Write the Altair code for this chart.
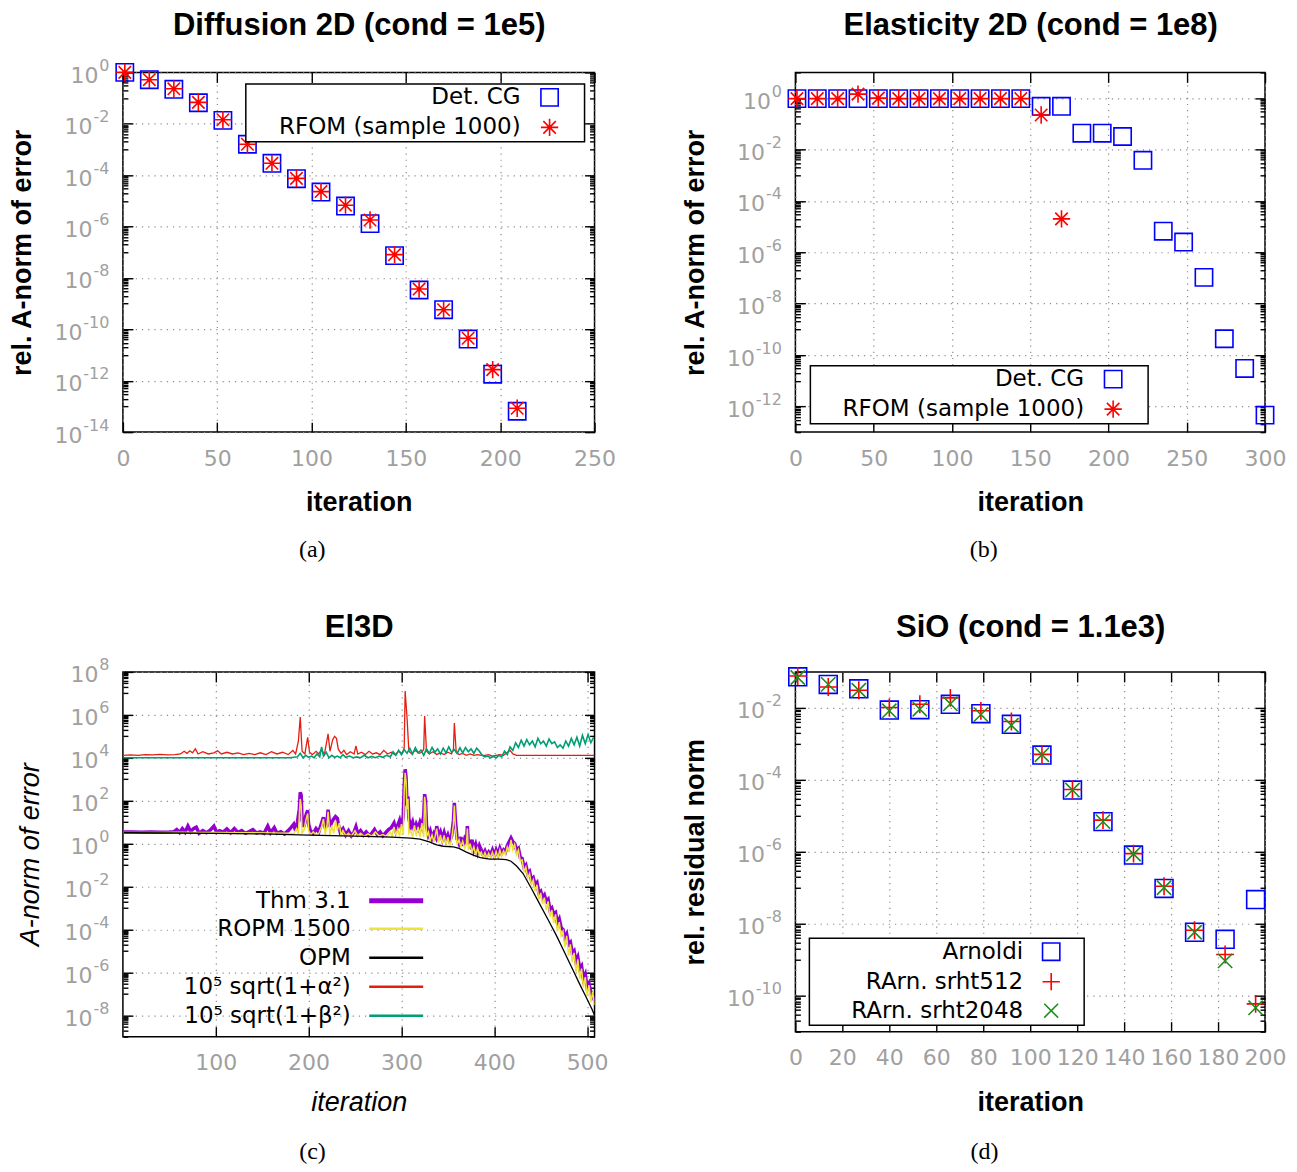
import altair as alt
import pandas as pd

# ---------------- (a) Diffusion 2D ----------------
A_ITER = [1, 14, 27, 40, 53, 66, 79, 92, 105, 118, 131, 144, 157, 170, 183, 196, 209]
A_CG = [1.0, 0.52, 0.22, 0.066, 0.0136, 1.6e-3, 2.9e-4, 7.3e-5, 2.2e-5, 6.3e-6, 1.3e-6,
        7.4e-8, 3.4e-9, 5.8e-10, 4.2e-11, 1.8e-12, 6.5e-14]
A_RFOM = [1.0, 0.52, 0.23, 0.068, 0.0144, 1.6e-3, 2.9e-4, 7.5e-5, 2.3e-5, 6.8e-6, 1.8e-6,
          8.1e-8, 3.7e-9, 5.8e-10, 4.5e-11, 2.7e-12, 8.5e-14]

# ---------------- (b) Elasticity 2D ----------------
B_ITER_CG = [1, 14, 27, 40, 53, 66, 79, 92, 105, 118, 131, 144, 157, 170, 183, 196, 209,
             222, 235, 248, 261, 274, 287, 300]
B_CG = [0.95, 0.95, 0.95, 0.95, 0.95, 0.95, 0.95, 0.95, 0.95, 0.95, 0.95, 0.95, 0.48, 0.48,
        0.043, 0.043, 0.032, 0.0038, 6.6e-6, 2.5e-6, 1.05e-7, 4.3e-10, 3.0e-11, 4.6e-13]
B_ITER_RFOM = [1, 14, 27, 40, 53, 66, 79, 92, 105, 118, 131, 144, 157, 170]
B_RFOM = [0.95, 0.95, 0.95, 1.43, 1.0, 0.95, 0.95, 0.95, 0.95, 0.95, 0.95, 0.95, 0.22, 2.0e-5]

# ---------------- (c) El3D ----------------
C_THM_X = [1, 10, 20, 30, 40, 50, 55, 58, 61, 64, 67, 70, 73, 76, 79, 82, 86, 90, 94, 98, 101, 104,
           108, 112, 116, 120, 124, 128, 132, 136, 140, 144, 148, 152, 156, 159, 163, 166, 170, 174,
           178, 181, 184, 186, 188, 190, 191, 192, 193, 195, 197, 199, 200, 202, 205, 208, 211, 214,
           216, 218, 220, 221, 223, 225, 227, 229, 231, 232, 234, 237, 240, 243, 246, 249, 251, 253,
           256, 259, 262, 265, 268, 271, 274, 277, 280, 283, 286, 289, 292, 294, 296, 298, 300, 302,
           303, 304, 305, 306, 307, 308, 310, 312, 314, 316, 318, 320, 322, 324, 325, 326, 327, 329,
           331, 333, 335, 337, 338, 340, 342, 344, 346, 348, 350, 352, 354, 356, 357, 358, 360, 362,
           364, 366, 368, 370, 371, 372, 374, 376, 378, 380, 382, 384, 386, 388, 390, 392, 394, 396,
           398, 400, 402, 404, 406, 408, 410, 412, 414, 416, 418, 420, 422, 424, 426, 428, 430, 432,
           434, 436, 438, 440, 442, 444, 446, 448, 450, 452, 454, 456, 458, 460, 462, 464, 466, 468,
           470, 472, 474, 476, 478, 480, 482, 484, 486, 488, 490, 492, 494, 496, 498, 500, 502, 504,
           506, 508]
C_THM_Y = [3.5, 3.5, 3.4, 3.5, 3.4, 3.5, 3.6, 4.5, 3.3, 5.0, 3.4, 6.5, 3.6, 5.0, 5.8, 3.0, 4.0, 3.2,
           4.2, 6.5, 3.3, 4.0, 3.4, 4.8, 3.2, 5.0, 3.3, 4.0, 3.0, 3.6, 4.5, 3.1, 3.5, 3.0, 6.5, 3.2,
           5.5, 3.0, 3.6, 2.8, 4.0, 5.5, 8.0, 4.0, 10, 40, 245, 180, 12, 6, 20, 35, 8, 4, 3.0, 5, 3.5,
           9, 17, 5, 12, 38, 6, 10, 14, 18, 15, 8, 3.5, 5, 2.5, 4.0, 2.3, 3.5, 6, 2.8, 4, 2.5, 3.5,
           2.4, 3.0, 4.5, 2.6, 3.5, 2.3, 3.2, 4.5, 5.5, 9, 4, 7, 12, 5, 20, 500, 2900, 1200, 60, 160,
           15, 6, 10, 4, 8, 5, 10, 6, 20, 200, 100, 7, 2.5, 4, 1.8, 3, 2, 6.5, 2.2, 3.5, 1.6, 3.2, 1.5,
           2.5, 1.3, 2.2, 12, 80, 15, 1.6, 1.0, 2.0, 0.8, 1.6, 1.0, 6.5, 1.2, 0.8, 1.5, 0.5, 0.9, 0.4,
           0.8, 0.5, 0.3, 0.45, 0.28, 0.4, 0.3, 0.5, 0.28, 0.5, 0.3, 0.6, 0.35, 0.5, 0.4, 0.8, 1.2,
           1.8, 1.2, 1.0, 0.5, 0.6, 0.22, 0.2, 0.08, 0.1, 0.04, 0.05, 0.02, 0.025, 0.012, 0.015, 5e-3,
           6e-3, 3e-3, 4e-3, 2e-3, 2.5e-3, 8e-4, 1e-3, 5e-4, 6e-4, 2e-4, 3e-4, 1.2e-4, 1e-4, 4e-5,
           6e-5, 2e-5, 2.5e-5, 8e-6, 1e-5, 3e-6, 5e-6, 1.5e-6, 2e-6, 5e-7, 8e-7, 2e-7, 3e-7, 1.2e-7,
           8e-8, 5e-8]

C_ROPM_X = [1, 20, 40, 60, 80, 100, 120, 140, 160, 180, 184, 187, 189, 190, 191, 192, 193, 195,
            197, 199, 200, 202, 205, 208, 211, 214, 216, 218, 220, 221, 223, 225, 227, 229, 231, 233,
            235, 237, 240, 243, 246, 250, 253, 256, 260, 264, 268, 272, 276, 280, 284, 288, 290, 292,
            294, 296, 298, 300, 302, 303, 304, 305, 306, 307, 308, 310, 312, 314, 316, 318, 320, 322,
            324, 325, 326, 327, 329, 331, 333, 335, 337, 338, 340, 342, 344, 346, 348, 350, 352, 354,
            356, 357, 358, 360, 362, 364, 366, 368, 370, 371, 372, 374, 376, 378, 380, 382, 384, 386,
            388, 390, 392, 394, 396, 398, 400, 402, 404, 406, 408, 410, 412, 414, 416, 418, 420, 422,
            424, 426, 428, 430, 432, 434, 436, 438, 440, 442, 444, 446, 448, 450, 452, 454, 456, 458,
            460, 462, 464, 466, 468, 470, 472, 474, 476, 478, 480, 482, 484, 486, 488, 490, 492, 494,
            496, 498, 500, 502, 504, 506, 508]
C_ROPM_Y = [3.3, 3.3, 3.3, 3.4, 3.3, 3.3, 3.2, 3.2, 3.1, 3.0, 2.8, 5, 2.8, 20, 120, 60, 3, 4, 12,
            25, 4, 2.6, 3.5, 2.5, 3, 6, 14, 2.6, 8, 30, 2.5, 7, 3, 12, 4, 9, 2.4, 4, 2.3, 3, 2.2, 4,
            2.3, 3, 2.2, 2.8, 2.2, 3.5, 2.2, 2.6, 2.1, 3.5, 2.2, 6, 2.5, 5, 2.2, 8, 2.5, 300, 2000,
            800, 40, 120, 3, 4, 2, 7, 2.2, 6, 2, 9, 2, 150, 60, 2, 3.5, 1.4, 2.5, 1.2, 3, 5, 1.1, 2.5,
            1.0, 2.4, 0.9, 2.0, 0.8, 1.5, 8, 60, 8, 0.9, 1.5, 0.7, 1.3, 0.6, 0.9, 5, 0.5, 1.0, 0.4,
            0.7, 0.3, 0.6, 0.3, 0.4, 0.22, 0.38, 0.21, 0.35, 0.22, 0.4, 0.21, 0.42, 0.22, 0.5, 0.25,
            0.45, 0.3, 0.7, 0.4, 1.5, 0.5, 0.9, 0.3, 0.5, 0.15, 0.17, 0.05, 0.08, 0.025, 0.04, 0.012,
            0.02, 6e-3, 0.012, 2.5e-3, 5e-3, 1.5e-3, 3e-3, 8e-4, 2e-3, 4e-4, 8e-4, 2e-4, 5e-4, 8e-5,
            2.2e-4, 5e-5, 8e-5, 1.5e-5, 5e-5, 6e-6, 2e-5, 3e-6, 8e-6, 1e-6, 4e-6, 5e-7, 1.5e-6, 2e-7,
            6e-7, 8e-8, 2.5e-7, 4e-8, 1.2e-7, 3e-8]

C_OPM_X = [1, 50, 100, 150, 200, 250, 290, 310, 320, 330, 338, 345, 356, 362, 370, 378, 385, 395,
           405, 413, 418, 424, 431, 440, 449, 458, 467, 476, 485, 492, 499, 505, 508]
C_OPM_Y = [3.2, 3.1, 3.0, 2.8, 2.5, 2.2, 2.0, 1.8, 1.6, 1.2, 0.87, 0.75, 0.7, 0.6, 0.4, 0.28, 0.22,
           0.19, 0.19, 0.18, 0.15, 0.09, 0.04, 8e-3, 1.5e-3, 2.8e-4, 5.1e-5, 8e-6, 1.2e-6, 2.8e-7,
           6.9e-8, 2e-8, 1e-8]

C_ALPHA_X = [1, 8, 16, 24, 32, 40, 48, 56, 62, 66, 69, 72, 75, 78, 81, 86, 92, 98, 102, 106, 112,
             118, 124, 130, 136, 142, 148, 154, 160, 166, 172, 178, 183, 186, 189, 191, 193, 196, 199,
             201, 204, 208, 211, 214, 217, 221, 223, 226, 228, 230, 232, 235, 238, 241, 245, 249, 251,
             253, 257, 261, 265, 269, 273, 277, 281, 285, 289, 293, 297, 301, 303, 304, 306, 308, 311,
             315, 319, 322, 324, 325, 327, 330, 334, 338, 342, 346, 350, 354, 356, 357, 359, 362, 366,
             370, 374, 378, 382, 386, 390, 394, 398, 402, 406, 410, 414, 417, 420, 424, 440, 460, 480,
             500, 508]
C_ALPHA_Y = [1.3e4, 1.35e4, 1.3e4, 1.4e4, 1.35e4, 1.45e4, 1.35e4, 1.4e4, 1.5e4, 2.0e4, 1.6e4, 2.1e4,
             1.7e4, 2.6e4, 1.5e4, 1.9e4, 1.5e4, 1.7e4, 2.1e4, 1.5e4, 1.8e4, 1.5e4, 1.7e4, 1.4e4,
             1.6e4, 1.4e4, 1.7e4, 1.4e4, 1.9e4, 1.5e4, 1.8e4, 1.4e4, 2.2e4, 1.5e4, 6.0e4, 7.8e5,
             2.0e4, 1.5e4, 9.0e4, 1.8e4, 1.4e4, 2.0e4, 1.5e4, 2.4e4, 1.4e4, 1.3e5, 2.0e4, 7.0e4,
             1.0e5, 8.0e4, 2.5e4, 1.6e4, 2.2e4, 1.4e4, 1.9e4, 1.5e4, 3.6e4, 1.5e4, 1.8e4, 1.4e4,
             2.0e4, 1.5e4, 1.7e4, 1.4e4, 2.2e4, 1.5e4, 1.8e4, 1.4e4, 2.0e4, 1.6e4, 3.0e4, 1.3e7,
             7.8e5, 2.0e4, 1.5e4, 2.2e4, 1.6e4, 1.8e4, 2.5e4, 8.7e5, 2.0e4, 1.5e4, 1.9e4, 1.4e4,
             1.7e4, 1.4e4, 1.8e4, 1.5e4, 2.5e4, 4.2e5, 1.8e4, 1.4e4, 1.6e4, 1.3e4, 1.5e4, 1.3e4,
             1.4e4, 1.3e4, 1.3e4, 1.4e4, 1.2e4, 1.3e4, 1.4e4, 1.3e4, 1.8e4, 2.2e4, 1.5e4, 1.3e4,
             1.3e4, 1.3e4, 1.3e4, 1.3e4, 1.3e4]

C_BETA_X = [1, 40, 80, 120, 160, 180, 184, 188, 191, 194, 197, 200, 203, 206, 209, 212, 214, 216,
            219, 222, 225, 228, 231, 234, 237, 240, 244, 248, 252, 256, 260, 264, 268, 272, 276, 280,
            284, 288, 291, 294, 297, 300, 303, 306, 309, 312, 315, 318, 321, 324, 327, 330, 333, 336,
            339, 342, 345, 348, 351, 354, 357, 360, 363, 366, 369, 372, 375, 378, 381, 384, 387, 390,
            393, 396, 399, 402, 405, 408, 411, 414, 417, 420, 423, 426, 429, 432, 435, 438, 441, 444,
            447, 450, 453, 456, 459, 462, 465, 468, 471, 474, 477, 480, 483, 486, 489, 492, 495, 498,
            501, 504, 507]
C_BETA_Y = [1.0e4, 1.0e4, 1.0e4, 1.0e4, 1.0e4, 1.0e4, 1.05e4, 1.1e4, 1.6e4, 1.0e4, 1.3e4, 1.05e4,
            1.2e4, 1.0e4, 1.5e4, 1.1e4, 3.2e4, 1.2e4, 1.8e4, 1.0e4, 1.3e4, 1.05e4, 1.2e4, 1.0e4,
            1.4e4, 1.05e4, 1.2e4, 1.0e4, 1.1e4, 1.0e4, 1.3e4, 1.0e4, 1.15e4, 1.0e4, 1.2e4, 1.05e4,
            1.3e4, 1.1e4, 1.9e4, 1.3e4, 2.2e4, 1.4e4, 2.4e4, 1.6e4, 2.8e4, 1.5e4, 3.0e4, 1.7e4,
            2.3e4, 1.3e4, 2.6e4, 1.6e4, 3.0e4, 1.8e4, 2.6e4, 1.5e4, 2.8e4, 1.7e4, 3.2e4, 1.8e4,
            2.4e4, 1.6e4, 2.9e4, 1.7e4, 3.0e4, 1.9e4, 2.6e4, 1.6e4, 2.8e4, 2.0e4, 1.3e4, 1.1e4,
            1.2e4, 1.0e4, 1.15e4, 1.0e4, 1.3e4, 1.1e4, 2.0e4, 1.4e4, 3.2e4, 2.2e4, 5.0e4, 3.0e4,
            6.5e4, 3.5e4, 7.0e4, 4.0e4, 6.0e4, 3.2e4, 8.0e4, 4.5e4, 6.0e4, 3.5e4, 7.5e4, 4.5e4,
            5.5e4, 3.0e4, 4.0e4, 2.8e4, 6.0e4, 3.5e4, 8.0e4, 4.0e4, 9.0e4, 3.5e4, 1.1e5, 4.5e4,
            1.2e5, 5.0e4, 9.0e4]

# ---------------- (d) SiO ----------------
D_ITER = [1, 14, 27, 40, 53, 66, 79, 92, 105, 118, 131, 144, 157, 170, 183, 196]
D_ARN = [0.073, 0.045, 0.034, 0.0087, 0.0089, 0.0126, 0.0069, 0.0035, 4.9e-4, 5.2e-5, 6.9e-6,
         8.1e-7, 9.6e-8, 5.8e-9, 3.7e-9, 4.7e-8]
D_S512 = [0.077, 0.038, 0.031, 0.0103, 0.0126, 0.019, 0.0083, 0.0042, 5.1e-4, 5.4e-5, 7.6e-6,
          8.9e-7, 1.1e-7, 6.6e-9, 1.4e-9, 5.9e-11]
D_S2048 = [0.07, 0.045, 0.031, 0.0083, 0.0092, 0.013, 0.0065, 0.0033, 5.0e-4, 5.2e-5, 6.9e-6,
           8.7e-7, 1.0e-7, 5.8e-9, 9.3e-10, 4.6e-11]

# ---------------- style ----------------
GREY = "#a0a0a0"
GRIDC = "#8c8c8c"
TICKF = "DejaVu Sans"
HEADF = "Liberation Sans"
ASTER_EXT = "M-1,0L1,0M0,-1L0,1M-0.72,-0.72L0.72,0.72M-0.72,0.72L0.72,-0.72 M3.35,0"
PLUS_EXT = "M-1,0L1,0M0,-1L0,1 M3.2,0"
XMARK = "M-0.8,-0.8L0.8,0.8M-0.8,0.8L0.8,-0.8"
LINE_SYM = "M-3,0L3,0"
EXP_LABEL = "toString(round(log(datum.value)/LN10))"
LPAD = 14
EXP_SIZE = 16
TEN_PAD = {"condition": [{"test": "datum.value < 1e-9", "value": LPAD + 27},
                         {"test": "datum.value < 0.5", "value": LPAD + 17}],
           "value": LPAD + 11}


def ticks_log(lo, hi, dmin, dmax):
    major = [10.0 ** e for e in range(hi, lo - 1, -1) if e % 2 == 0]
    minor = []
    for e in range(hi, lo - 1, -1):
        if e % 2 != 0:
            for m in range(1, 10):
                v = m * 10.0 ** e
                if dmin * 0.999 <= v <= dmax * 1.001:
                    minor.append(v)
    return [v for v in major if dmin * 0.999 <= v <= dmax * 1.001], minor


def tick_axis(orient, offset, values, size):
    return alt.Axis(orient=orient, offset=offset, values=values, labels=False, ticks=True,
                    tickSize=size, tickWidth=1.4, tickColor="black", domain=False, grid=False,
                    title=None)


def guides(df, xs, ys, W, H, xvals, ymaj, ymin, title, title_y, xtitle, xtitle_y, ytitle,
           ytitle_x, italic):
    tstyle = dict(titleFont=HEADF, titleFontSize=27, titleColor="black",
                  titleFontWeight="normal" if italic else "bold",
                  titleFontStyle="italic" if italic else "normal")
    gstyle = dict(grid=True, gridColor=GRIDC, gridDash=[1.2, 5], gridWidth=1.2)
    base = alt.Chart(df).mark_point(opacity=0)
    g1 = base.encode(
        x=alt.X("x:Q", scale=xs, axis=alt.Axis(
            orient="bottom", values=xvals, format="d", ticks=False, domain=False,
            labelFont=TICKF, labelFontSize=22, labelColor=GREY, labelOverlap=False,
            labelFlush=False, labelPadding=16, title=xtitle, titleX=W / 2, titleY=xtitle_y,
            titleBaseline="middle", titleAlign="center", **gstyle, **tstyle)),
        y=alt.Y("y:Q", scale=ys, axis=alt.Axis(
            orient="left", values=ymaj, labelExpr="'10'", ticks=False, domain=False,
            labelFont=TICKF, labelFontSize=22, labelColor=GREY, labelOverlap=False,
            labelFlush=False, labelAlign="right", labelBaseline="middle", labelOffset=3,
            labelPadding=TEN_PAD, title=ytitle, titleX=ytitle_x, titleY=H / 2, titleAngle=270,
            titleBaseline="middle", titleAlign="center", **gstyle, **tstyle)),
    )
    g2 = base.encode(
        x=alt.X("x:Q", scale=xs, axis=tick_axis("top", -H, xvals, 10)),
        y=alt.Y("y:Q", scale=ys, axis=tick_axis("right", -W, ymaj, 10)),
    )
    top_axis = alt.Axis(orient="bottom", offset=-H, values=xvals, labels=False, ticks=True,
                        tickSize=10, tickWidth=1.4, tickColor="black", domain=False, grid=False,
                        title=title, titleX=W / 2, titleY=title_y, titleBaseline="middle",
                        titleAlign="center", titleAngle=0, titleFont=HEADF, titleFontSize=31,
                        titleFontWeight="bold", titleColor="black")
    g3 = base.encode(
        x=alt.X("x:Q", scale=xs, axis=top_axis),
        y=alt.Y("y:Q", scale=ys, axis=tick_axis("left", -W, ymaj, 10)),
    )
    g4 = base.encode(
        x=alt.X("x:Q", scale=xs, axis=None),
        y=alt.Y("y:Q", scale=ys, axis=tick_axis("right", -W, ymin, 5)),
    )
    g5 = base.encode(
        x=alt.X("x:Q", scale=xs, axis=None),
        y=alt.Y("y:Q", scale=ys, axis=tick_axis("left", -W, ymin, 5)),
    )
    g6 = base.encode(
        x=alt.X("x:Q", scale=xs, axis=None),
        y=alt.Y("y:Q", scale=ys, axis=alt.Axis(
            orient="left", values=ymaj, labelExpr=EXP_LABEL, ticks=False, domain=False,
            grid=False, labelFont=TICKF, labelFontSize=EXP_SIZE, labelColor=GREY,
            labelOverlap=False, labelFlush=False, labelAlign="right", labelBaseline="middle",
            labelOffset={"expr": "-7"}, labelPadding=LPAD, title=None)),
    )
    return [g1, g2, g3, g4, g5, g6]


def box_legend(lx, ly, loff, soff):
    return alt.Legend(orient="none", legendX=lx, legendY=ly, title=None, direction="vertical",
                      strokeColor="black", fillColor="white", padding=2, rowPadding=5,
                      labelFont=TICKF, labelFontSize=23, labelColor="black",
                      labelAlign="right", labelOffset={"expr": str(loff)}, symbolOffset=soff,
                      labelLimit=0, symbolSize=300, symbolStrokeWidth=1.6)


def line_legend(ly, loff, soff, sw):
    return alt.Legend(orient="none", legendX=0, legendY=ly, title=None, padding=0, rowPadding=5,
                      labelFont=TICKF, labelFontSize=23, labelColor="black", labelAlign="right",
                      labelOffset={"expr": str(loff)}, symbolOffset=soff, labelLimit=0,
                      symbolType=LINE_SYM, symbolSize=324, symbolStrokeWidth=sw)


def point_layers(series, xs, ys, legend, size):
    names = [s[0] for s in series]
    colors = [s[3] for s in series]
    shapes = [s[4] for s in series]
    out = []
    for name, xv, yv, col, shp in series:
        df = pd.DataFrame({"x": xv, "y": yv, "series": name})
        out.append(alt.Chart(df).mark_point(filled=False, size=size, strokeWidth=1.6,
                                            opacity=1).encode(
            x=alt.X("x:Q", scale=xs, axis=None),
            y=alt.Y("y:Q", scale=ys, axis=None),
            color=alt.Color("series:N", scale=alt.Scale(domain=names, range=colors),
                            legend=legend),
            shape=alt.Shape("series:N", scale=alt.Scale(domain=names, range=shapes),
                            legend=legend),
        ))
    return out


def caption(txt, off):
    return alt.TitleParams(text=txt, orient="bottom", anchor="middle", frame="bounds",
                           font="Liberation Serif", fontSize=24, fontWeight="normal",
                           color="black", offset=off)


# ---------------- panel (a) ----------------
WA, HA = 472, 360
xa = alt.Scale(domain=[0, 250], nice=False, zero=False)
ya = alt.Scale(type="log", domain=[1e-14, 1], nice=False)
maj, mnr = ticks_log(-14, 0, 1e-14, 1)
dfa = pd.DataFrame({"x": A_ITER, "y": A_CG})
leg_a = box_legend(123, 11.5, -40.5, 290.5)
pa = alt.layer(
    *guides(dfa, xa, ya, WA, HA, [0, 50, 100, 150, 200, 250], maj, mnr,
            "Diffusion 2D (cond = 1e5)", -47, "iteration", 70, "rel. A-norm of error", -100,
            False),
    *point_layers([("Det. CG", A_ITER, A_CG, "#0000ff", "square"),
                   ("RFOM (sample 1000)", A_ITER, A_RFOM, "#ff0000", ASTER_EXT)], xa, ya, leg_a,
                  300),
).resolve_axis(x="independent", y="independent").properties(
    width=WA, height=HA, title=caption("(a)", 23))

# ---------------- panel (b) ----------------
WB, HB = 470, 360
xb = alt.Scale(domain=[0, 300], nice=False, zero=False)
yb = alt.Scale(type="log", domain=[1e-13, 10], nice=False)
maj, mnr = ticks_log(-13, 1, 1e-13, 10)
dfb = pd.DataFrame({"x": B_ITER_CG, "y": B_CG})
leg_b = box_legend(15, 293.5, -40.5, 289.5)
pb = alt.layer(
    *guides(dfb, xb, yb, WB, HB, [0, 50, 100, 150, 200, 250, 300], maj, mnr,
            "Elasticity 2D (cond = 1e8)", -47, "iteration", 70, "rel. A-norm of error", -100,
            False),
    *point_layers([("Det. CG", B_ITER_CG, B_CG, "#0000ff", "square"),
                   ("RFOM (sample 1000)", B_ITER_RFOM, B_RFOM, "#ff0000", ASTER_EXT)], xb, yb,
                  leg_b, 300),
).resolve_axis(x="independent", y="independent").properties(
    width=WB, height=HB, title=caption("(b)", 23))

# ---------------- panel (c) ----------------
WC, HC = 472, 365
xc = alt.Scale(domain=[0, 508], nice=False, zero=False)
yc = alt.Scale(type="log", domain=[1e-9, 1e8], nice=False)
maj, mnr = ticks_log(-9, 8, 1e-9, 1e8)
C_NAMES = ["ROPM 1500", "OPM", "10\u2075 sqrt(1+\u03b1\u00b2)", "10\u2075 sqrt(1+\u03b2\u00b2)"]
C_COLORS = ["#efe23a", "#000000", "#e51e10", "#009e73"]
C_WIDTHS = [1.5, 1.3, 1.3, 1.6]
dfc = pd.DataFrame({"x": C_OPM_X, "y": C_OPM_Y})
leg_thm = line_legend(217.5, -57, 262, 5)
leg_c = line_legend(245.5, -57, 262, 2.5)
thm = alt.Chart(pd.DataFrame({"x": C_THM_X, "y": C_THM_Y, "series": "Thm 3.1"})).mark_line(
    strokeWidth=3.5, clip=True).encode(
    x=alt.X("x:Q", scale=xc, axis=None), y=alt.Y("y:Q", scale=yc, axis=None),
    stroke=alt.Stroke("series:N", scale=alt.Scale(domain=["Thm 3.1"], range=["#9400d3"]),
                      legend=leg_thm))
c_lines = []
for nm, xv, yv, w in [(C_NAMES[0], C_ROPM_X, C_ROPM_Y, C_WIDTHS[0]),
                      (C_NAMES[1], C_OPM_X, C_OPM_Y, C_WIDTHS[1]),
                      (C_NAMES[2], C_ALPHA_X, C_ALPHA_Y, C_WIDTHS[2]),
                      (C_NAMES[3], C_BETA_X, C_BETA_Y, C_WIDTHS[3])]:
    c_lines.append(alt.Chart(pd.DataFrame({"x": xv, "y": yv, "series": nm})).mark_line(
        strokeWidth=w, clip=True).encode(
        x=alt.X("x:Q", scale=xc, axis=None), y=alt.Y("y:Q", scale=yc, axis=None),
        color=alt.Color("series:N", scale=alt.Scale(domain=C_NAMES, range=C_COLORS),
                        legend=leg_c)))
pc = alt.layer(
    *guides(dfc, xc, yc, WC, HC, [100, 200, 300, 400, 500], maj, mnr, "El3D", -44,
            "iteration", 66, "A-norm of error", -92, True),
    thm, *c_lines,
).resolve_axis(x="independent", y="independent").properties(
    width=WC, height=HC, title=caption("(c)", 24))

# ---------------- panel (d) ----------------
WD, HD = 470, 360
xd = alt.Scale(domain=[0, 200], nice=False, zero=False)
yd = alt.Scale(type="log", domain=[1e-11, 1e-1], nice=False)
maj, mnr = ticks_log(-11, -1, 1e-11, 1e-1)
dfd = pd.DataFrame({"x": D_ITER, "y": D_ARN})
leg_d = box_legend(14, 266.5, -39.5, 228.5)
pd_ = alt.layer(
    *guides(dfd, xd, yd, WD, HD, list(range(0, 201, 20)), maj, mnr, "SiO (cond = 1.1e3)", -44,
            "iteration", 71, "rel. residual norm", -100, False),
    *point_layers([("Arnoldi", D_ITER, D_ARN, "#0000ff", "square"),
                   ("RArn. srht512", D_ITER, D_S512, "#ff0000", PLUS_EXT),
                   ("RArn. srht2048", D_ITER, D_S2048, "#1e8c1e", XMARK)], xd, yd, leg_d, 320),
).resolve_axis(x="independent", y="independent").properties(
    width=WD, height=HD, title=caption("(d)", 24))

RES = dict(color="independent", shape="independent", stroke="independent")
chart = alt.concat(pa, pb, pc, pd_, columns=2, spacing={"row": 240, "column": 201},
                   bounds="flush",
                   padding={"left": 0, "top": 0, "right": 0, "bottom": 0}).resolve_scale(
    **RES).configure_view(stroke="black", strokeWidth=1.5).configure_legend(strokeWidth=1.5)

chart.save("out.html", embed_options={"renderer": "svg", "actions": False})
